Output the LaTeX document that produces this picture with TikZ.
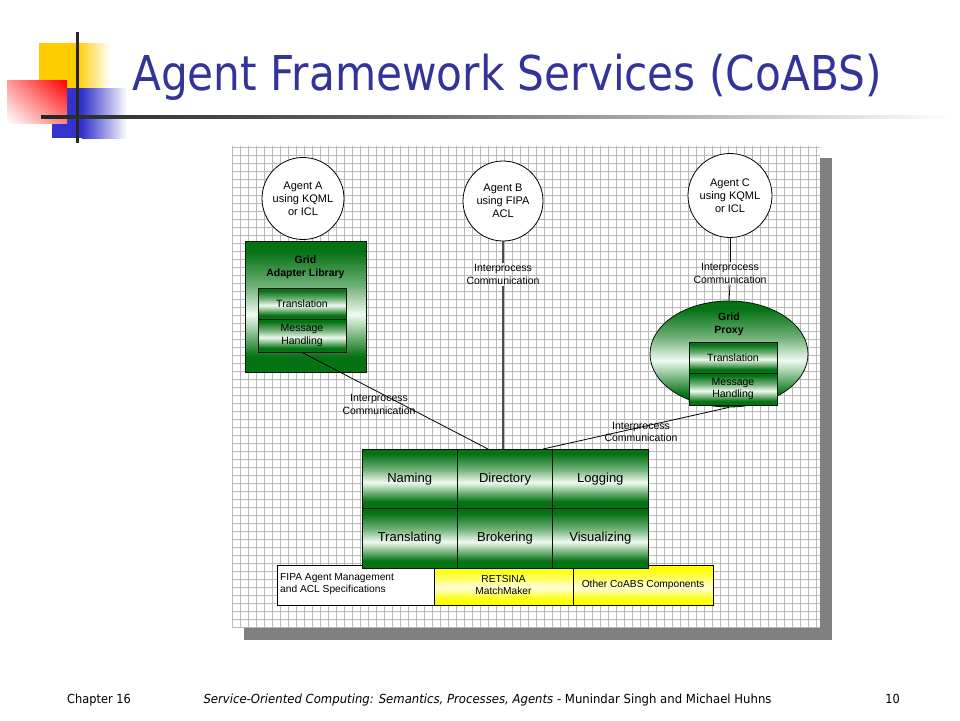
\documentclass[tikz,border=0pt]{standalone}
\usepackage{graphicx}
\usepackage{fontspec}
\setmainfont{Liberation Sans}
\newfontfamily\dejavu{DejaVu Sans}
\usetikzlibrary{shapes.geometric,shadings}
\definecolor{titleblue}{RGB}{51,51,153}
\definecolor{gdark}{RGB}{5,115,20}
\definecolor{glight}{RGB}{240,250,240}
\colorlet{gmid}{gdark!55!glight}
\definecolor{ydark}{RGB}{255,255,0}
\definecolor{ylight}{RGB}{255,255,220}
\colorlet{ymid}{ydark!55!ylight}
\definecolor{gridgray}{RGB}{185,185,185}
\definecolor{shadowgray}{RGB}{128,128,128}
\definecolor{logoyellow}{RGB}{255,204,0}
\definecolor{logoblue}{RGB}{51,51,204}
\pgfdeclareverticalshading{gshade}{100bp}{color(0bp)=(gdark); color(25bp)=(gdark); color(31bp)=(gdark); color(47bp)=(glight); color(58bp)=(gmid); color(71bp)=(gdark); color(100bp)=(gdark)}
\pgfdeclareverticalshading{yshade}{100bp}{color(0bp)=(ydark); color(25bp)=(ydark); color(31bp)=(ydark); color(47bp)=(ylight); color(58bp)=(ymid); color(71bp)=(ydark); color(100bp)=(ydark)}
\begin{document}
\begin{tikzpicture}[x=1pt,y=-1pt,
  every node/.style={font=\fontsize{10.5}{12.5}\selectfont, text=black},
  agent/.style={circle, draw=black, line width=0.8pt, fill=white, inner sep=0pt, align=center, font=\fontsize{11}{13}\selectfont},
  greenbox/.style={draw=black!80!gdark, line width=0.8pt, shade, shading=gshade, inner sep=0pt},
  innerbox/.style={greenbox, minimum width=88pt, align=center},
  svc/.style={greenbox, minimum width=95.33pt, minimum height=59.5pt, font=\fontsize{13}{15}\selectfont},
  ybox/.style={draw=black, line width=0.8pt, shade, shading=yshade, inner sep=0pt, minimum height=40pt, align=center, font=\fontsize{10.2}{12.5}\selectfont},
  wbox/.style={draw=black, line width=0.8pt, fill=white, inner sep=0pt, minimum height=40pt},
  ipc/.style={align=center, inner sep=1pt},
  conn/.style={draw=black, line width=0.8pt},
  vconn/.style={draw=black!70, line width=1.3pt},
  boldtitle/.style={align=center, font=\fontsize{10.5}{13}\selectfont\bfseries, inner sep=0pt},
  footer/.style={inner sep=0pt, font=\fontsize{12.5}{14}\selectfont\dejavu}
]
\useasboundingbox (0,0) rectangle (960,720);
\fill[white] (0,0) rectangle (960,720);

% logo
\fill[logoyellow] (39,43) rectangle (77,88);
\shade[left color=logoyellow, right color=white] (77,43) rectangle (110,88);
\fill[logoblue] (52,88) rectangle (82,138);
\shade[left color=logoblue, right color=white] (82,88) rectangle (127,138);
\shade[upper right=red, lower left=white, upper left=red!40!white, lower right=red!50!white] (7,80) rectangle (67,123);
\fill[black!85] (75.5,32) rectangle (78.5,143);
\shade[left color=black!85, right color=black!60] (41,115.5) rectangle (400,118.5);
\shade[left color=black!60, right color=white] (400,115.5) rectangle (955,118.5);

% title
\node[anchor=base west, inner sep=0pt, text=titleblue] (title) at (132,90)
  {\scalebox{0.88}[1]{\fontsize{48}{50}\dejavu Agent Framework Services (CoABS)}};

% diagram background
\fill[shadowgray] (244,158) rectangle (832,640);
\fill[white] (232,146) rectangle (820,628);
\foreach \i in {0,...,73} \draw[gridgray, line width=0.8pt] (232+8*\i,146) -- (232+8*\i,628);
\foreach \j in {0,...,60} \draw[gridgray, line width=0.8pt] (232,147+8*\j) -- (820,147+8*\j);

% agents
\node[agent, minimum size=82pt] (agentA) at (303,198.5) {Agent A\\using KQML\\or ICL};
\node[agent, minimum size=80pt] (agentB) at (503,201) {Agent B\\using FIPA\\ACL};
\node[agent, minimum size=84pt] (agentC) at (730,195.5) {Agent C\\using KQML\\or ICL};

% grid adapter library
\node[greenbox, minimum width=121pt, minimum height=131pt] (gal) at (305.5,306.5) {};
\node[boldtitle] (galtitle) at (305.5,267.5) {Grid\\Adapter Library};
\node[innerbox, minimum height=31pt] (galT) at (302,303.5) {Translation};
\node[innerbox, minimum height=33pt] (galM) at (302,335.5) {Message\\Handling};

% grid proxy
\node[ellipse, greenbox, minimum width=158pt, minimum height=106pt] (proxy) at (729,354) {};
\node[boldtitle] (proxytitle) at (729,324.5) {Grid\\Proxy};
\node[innerbox, minimum height=31pt] (proxyT) at (733,357.5) {Translation};
\node[innerbox, minimum height=32pt] (proxyM) at (733,389) {Message\\Handling};

% bottom row
\node[wbox, minimum width=157pt] (fipa) at (355.5,585) {};
\node[anchor=west, align=left, inner sep=0pt, font=\fontsize{10.2}{12.5}\selectfont] (fipatext) at (280,584) {FIPA Agent Management\\and ACL Specifications};
\node[ybox, minimum width=139pt] (retsina) at (503.5,585) {RETSINA\\MatchMaker};
\node[ybox, minimum width=140pt] (other) at (643,585) {Other CoABS Components};

% services
\node[svc] (naming) at (409.67,478.75) {Naming};
\node[svc] (directory) at (505,478.75) {Directory};
\node[svc] (logging) at (600.33,478.75) {Logging};
\node[svc] (translating) at (409.67,538.25) {Translating};
\node[svc] (brokering) at (505,538.25) {Brokering};
\node[svc] (visualizing) at (600.33,538.25) {Visualizing};

% connector ends on the services block
\coordinate (svcA) at (488,449);
\coordinate (svcB) at (503,449);
\coordinate (svcC) at (543,449);

% interprocess labels
\node[ipc] (ipcA) at (379,404.5) {Interprocess\\Communication};
\node[ipc] (ipcB) at (503,274.5) {Interprocess\\Communication};
\node[ipc] (ipcC) at (730,273.5) {Interprocess\\Communication};
\node[ipc] (ipcD) at (641,432) {Interprocess\\Communication};

% connectors
\draw[vconn] (agentB.south) -- (ipcB.north);
\draw[vconn] (ipcB.south) -- (svcB);
\draw[conn] (agentC.south) -- (ipcC.north);
\draw[conn] (ipcC.south) -- (proxy.north);
\draw[conn] (galM.south) -- (svcA);
\draw[conn] (proxy.south) -- (svcC);

% footer
\node[footer, anchor=base west] (chapter) at (67,703.5) {\scalebox{0.91}[1]{Chapter 16}};
\node[footer, anchor=base] (foottext) at (487.5,703.5) {\scalebox{0.935}[1]{\itshape Service-Oriented Computing: Semantics, Processes, Agents\upshape{} - Munindar Singh and Michael Huhns}};
\node[footer, anchor=base east] (pagenum) at (900,703.5) {\scalebox{0.91}[1]{10}};
\end{tikzpicture}
\end{document}
